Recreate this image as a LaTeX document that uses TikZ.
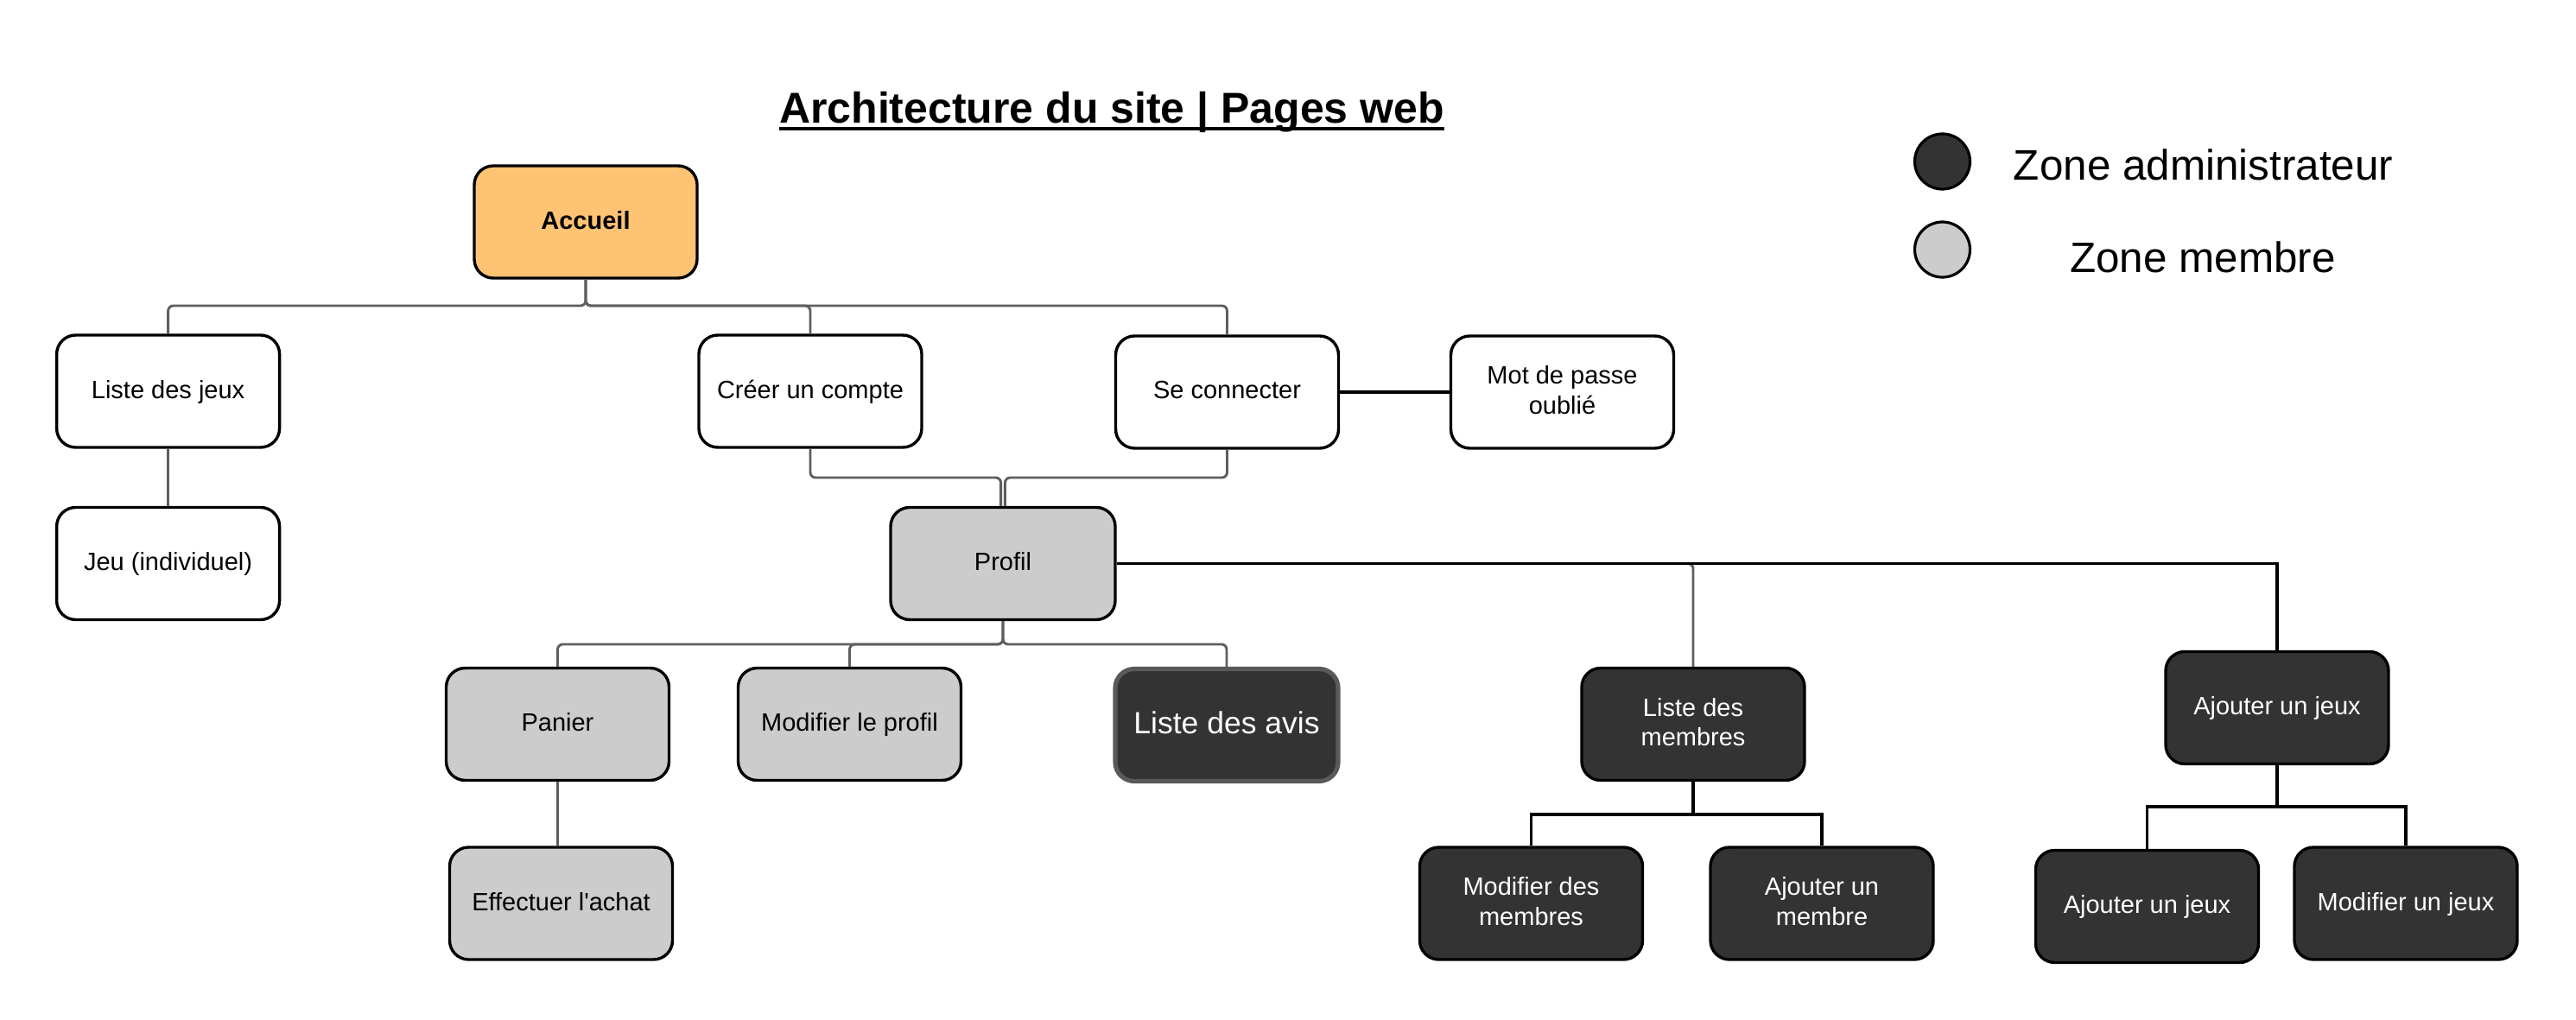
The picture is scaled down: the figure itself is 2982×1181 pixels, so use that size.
\documentclass[tikz,border=0pt]{standalone}
\usepackage{fontspec}
\setmainfont{Liberation Sans}
\definecolor{accent}{HTML}{FFC374}
\definecolor{member}{HTML}{CCCCCC}
\definecolor{admin}{HTML}{333333}
\definecolor{wire}{HTML}{5E5E5E}
\definecolor{avisrim}{HTML}{595959}

\begin{document}
\begin{tikzpicture}[x=0.5pt,y=-0.5pt,
  page/.style={draw=black, line width=1.7pt, rounded corners=11pt,
    minimum width=129pt, minimum height=65pt, align=center, inner sep=0pt,
    text depth=0.25em, fill=white, font=\fontsize{14.5}{17.25}\selectfont},
  home/.style={page, fill=accent, font=\fontsize{14.5}{17.25}\selectfont\bfseries},
  memberpage/.style={page, fill=member},
  adminpage/.style={page, fill=admin, text=white},
  soft/.style={draw=wire, line width=1.45pt, rounded corners=3pt},
  hard/.style={draw=black, line width=1.6pt},
  dot/.style={circle, draw=black, line width=1.6pt, minimum size=32pt, inner sep=0pt},
  legend/.style={anchor=base, inner sep=0pt, font=\fontsize{24.7}{28}\selectfont},
]
\useasboundingbox (0,0) rectangle (2982,1181);

% title
\node[anchor=base, inner sep=0pt, font=\fontsize{25}{30}\selectfont\bfseries]
  (title) at (1287,143) {Architecture du site | Pages web};
\draw[line width=2pt] ([yshift=-3.2pt]title.base west) -- ([yshift=-3.2pt]title.base east);

% legend
\node[dot, fill=admin] (admindot) at (2248.5,187) {};
\node[dot, fill=member] (memberdot) at (2248.5,289) {};
\node[legend] (admintxt) at (2550.6,209) {Zone administrateur};
\node[legend] (membertxt) at (2550,316) {Zone membre};

% public pages
\node[home] (accueil) at (678,257) {Accueil};
\node[page] (jeux) at (194.6,453) {Liste des jeux};
\node[page] (creer) at (938,453) {Créer un compte};
\node[page] (connect) at (1420.5,454) {Se connecter};
\node[page] (mdp) at (1808.5,454) {Mot de passe\\oublié};
\node[page] (jeu) at (194.6,652.5) {Jeu (individuel)};

% member pages
\node[memberpage, minimum width=130pt] (profil) at (1161,652.5) {Profil};
\node[memberpage] (panier) at (645.5,838.5) {Panier};
\node[memberpage] (modprofil) at (983.5,838.5) {Modifier le profil};
\node[memberpage] (achat) at (649.5,1046) {Effectuer l\textquotesingle achat};

% admin pages
\node[adminpage, draw=avisrim, line width=2.6pt, font=\fontsize{17.75}{21}\selectfont]
  (avis) at (1420,839.5) {Liste des avis};
\node[adminpage] (membres) at (1960,838.5) {Liste des\\membres};
\node[adminpage] (ajout) at (2636,819.5) {Ajouter un jeux};
\node[adminpage] (modmembres) at (1772.5,1046) {Modifier des\\membres};
\node[adminpage] (ajoutmembre) at (2109,1046) {Ajouter un\\membre};
\node[adminpage] (ajoutjeux) at (2485.5,1049.5) {Ajouter un jeux};
\node[adminpage] (modjeux) at (2785,1046) {Modifier un jeux};

% bus levels
\coordinate (busA) at (0,354);
\coordinate (busB) at (0,553);
\coordinate (busC) at (0,746);
\coordinate (busD) at (0,943);
\coordinate (busE) at (0,934);

% connectors
\draw[soft] (accueil.south) -- (accueil.south |- busA) -| (jeux.north);
\draw[soft] (accueil.south) -- (accueil.south |- busA) -| (creer.north);
\draw[soft] (accueil.south) -- (accueil.south |- busA) -| (connect.north);
\draw[soft] (jeux.south) -- (jeu.north);
\draw[soft] (creer.south) -- (creer.south |- busB) -| ([xshift=-1.2pt]profil.north);
\draw[soft] (connect.south) -- (connect.south |- busB) -| ([xshift=1.2pt]profil.north);
\draw[hard] (connect.east) -- (mdp.west);
\draw[soft] (profil.south) -- (profil.south |- busC) -| (panier.north);
\draw[soft] (profil.south) -- (profil.south |- busC) -| (modprofil.north);
\draw[soft] (profil.south) -- (profil.south |- busC) -| (avis.north);
\draw[soft] (panier.south) -- (panier.south |- achat.north);
\draw[soft] (profil.east) -| (membres.north);
\draw[hard] (profil.east) -| (ajout.north);
\draw[hard] (membres.south) -- (membres.south |- busD) -| (modmembres.north);
\draw[hard] (membres.south) -- (membres.south |- busD) -| (ajoutmembre.north);
\draw[hard] (ajout.south) -- (ajout.south |- busE) -| (ajoutjeux.north);
\draw[hard] (ajout.south) -- (ajout.south |- busE) -| (modjeux.north);
\end{tikzpicture}
\end{document}
